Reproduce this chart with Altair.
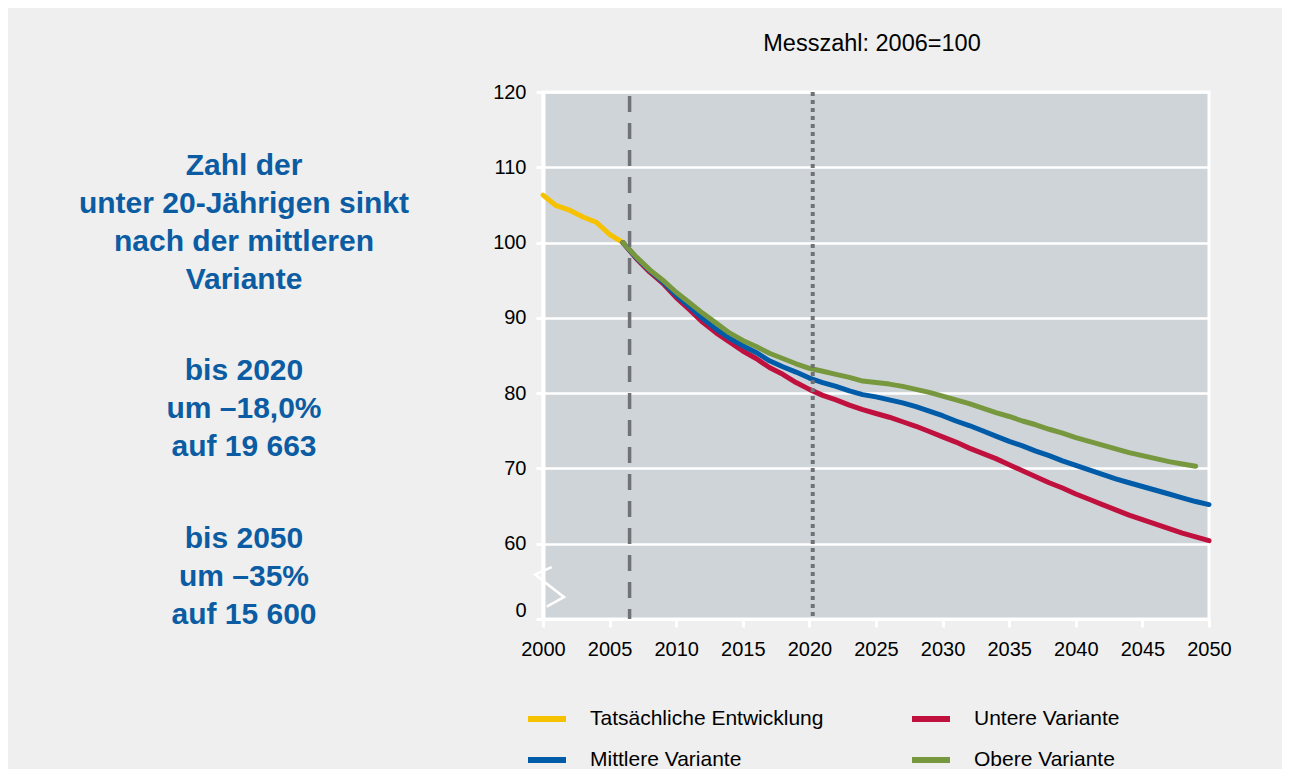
import altair as alt
import pandas as pd

# ---------------- data ----------------
SERIES = ["Tatsächliche Entwicklung", "Untere Variante", "Mittlere Variante", "Obere Variante"]
COLORS = ["#f6c200", "#c0103e", "#005ca8", "#77983f"]
# legend fills column by column: column 1 = actual + middle, column 2 = lower + upper
LEGEND_ORDER = [SERIES[0], SERIES[2], SERIES[1], SERIES[3]]
LEGEND_COLORS = [COLORS[0], COLORS[2], COLORS[1], COLORS[3]]

YEARS_ACTUAL = [2000, 2001, 2002, 2003, 2004, 2005, 2006]
ACTUAL = [106.3, 104.9, 104.3, 103.4, 102.7, 101.1, 100.0]

YEARS_UNTERE = list(range(2006, 2051))
UNTERE = [100.0, 97.9, 96.1, 94.6, 92.7, 91.1, 89.4, 88.0, 86.8, 85.6,
          84.6, 83.4, 82.5, 81.4, 80.5, 79.7, 79.1, 78.4, 77.8, 77.3,
          76.8, 76.2, 75.6, 74.9, 74.2, 73.5, 72.7, 72.0, 71.3, 70.5,
          69.7, 68.9, 68.1, 67.4, 66.6, 65.9, 65.2, 64.5, 63.8, 63.2,
          62.6, 62.0, 61.4, 60.9, 60.4]

YEARS_MITTLERE = list(range(2006, 2051))
MITTLERE = [100.0, 98.0, 96.3, 94.8, 93.0, 91.5, 89.9, 88.5, 87.3, 86.3,
            85.4, 84.3, 83.5, 82.8, 82.0, 81.4, 80.9, 80.3, 79.8, 79.5,
            79.1, 78.7, 78.2, 77.6, 77.0, 76.3, 75.7, 75.0, 74.3, 73.6,
            73.0, 72.3, 71.7, 71.0, 70.4, 69.8, 69.2, 68.6, 68.1, 67.6,
            67.1, 66.6, 66.1, 65.6, 65.2]

YEARS_OBERE = list(range(2006, 2050))
OBERE = [100.0, 98.1, 96.4, 95.0, 93.4, 92.0, 90.6, 89.3, 88.0, 87.0,
         86.2, 85.3, 84.6, 83.9, 83.3, 82.9, 82.5, 82.1, 81.6, 81.4,
         81.2, 80.9, 80.5, 80.1, 79.6, 79.1, 78.6, 78.0, 77.4, 76.9,
         76.3, 75.8, 75.2, 74.7, 74.1, 73.6, 73.1, 72.6, 72.1, 71.7,
         71.3, 70.9, 70.6, 70.3]

X_TICKS = [2000, 2005, 2010, 2015, 2020, 2025, 2030, 2035, 2040, 2045, 2050]
Y_TICKS = [50, 60, 70, 80, 90, 100, 110, 120]   # 50 marks the broken-axis "0"
BASE_YEAR_LINE = [2006.5]
HORIZON_LINE = [2020.25]

# axis-break zigzag, in data units
BREAK_X = [2000.65, 1999.4, 2001.58, 2000.28]
BREAK_Y = [56.9, 55.9, 52.9, 51.65]

SUBTITLE = "Messzahl: 2006=100"
BLOCK1 = ["Zahl der", "unter 20-Jährigen sinkt", "nach der mittleren", "Variante"]
BLOCK2 = ["bis 2020", "um –18,0%", "auf 19 663"]
BLOCK3 = ["bis 2050", "um –35%", "auf 15 600"]

# ---------------- build ----------------
rows = []
for name, yrs, vals in [(SERIES[0], YEARS_ACTUAL, ACTUAL),
                        (SERIES[1], YEARS_UNTERE, UNTERE),
                        (SERIES[2], YEARS_MITTLERE, MITTLERE),
                        (SERIES[3], YEARS_OBERE, OBERE)]:
    for y, v in zip(yrs, vals):
        rows.append({"year": y, "value": v, "series": name})
df = pd.DataFrame(rows)

FONT = "Liberation Sans"

x_enc = alt.X(
    "year:Q",
    scale=alt.Scale(domain=[2000, 2050], nice=False, zero=False),
    axis=alt.Axis(
        values=X_TICKS, format="d", title=None, grid=False,
        domainColor="white", domainWidth=3,
        tickColor="white", tickWidth=3, tickSize=8,
        labelFontSize=20, labelFont=FONT, labelColor="black",
        labelPadding=12, labelFlush=False, labelOverlap=False,
    ),
)
y_enc = alt.Y(
    "value:Q",
    scale=alt.Scale(domain=[50, 120], nice=False, zero=False),
    axis=alt.Axis(
        values=Y_TICKS, title=None,
        labelExpr="datum.value == 50 ? '0' : datum.label",
        grid=True, gridColor="white", gridWidth=2.5,
        domainColor="white", domainWidth=4,
        tickColor="white", tickWidth=3, tickSize=7,
        labelFontSize=20, labelFont=FONT, labelColor="black",
        labelPadding=10, labelOverlap=False,
        labelOffset={"condition": {"test": "datum.value == 50", "value": -9}, "value": 0},
    ),
)
color_enc = alt.Color(
    "series:N",
    scale=alt.Scale(domain=LEGEND_ORDER, range=LEGEND_COLORS),
    title=None,
    legend=alt.Legend(
        orient="none", legendX=-18, legendY=605, columns=2,
        symbolType="stroke", symbolStrokeWidth=6, symbolSize=1444,
        labelFontSize=21, labelFont=FONT, labelColor="black",
        labelOffset=21, columnPadding=76, rowPadding=7, labelLimit=500,
    ),
)

def series_layer(name):
    return alt.Chart(df).transform_filter(
        alt.datum.series == name
    ).mark_line(strokeWidth=5, strokeJoin="round", strokeCap="round").encode(
        x=x_enc, y=y_enc, color=color_enc, order="year:Q"
    )

lines = [series_layer(SERIES[0]), series_layer(SERIES[1]),
         series_layer(SERIES[2]), series_layer(SERIES[3])]

dashed = alt.Chart(pd.DataFrame({"year": BASE_YEAR_LINE})).mark_rule(
    color="#707275", strokeWidth=3.5, strokeDash=[16, 11], strokeDashOffset=23
).encode(x="year:Q")

dotted = alt.Chart(pd.DataFrame({"year": HORIZON_LINE})).mark_rule(
    color="#707275", strokeWidth=4, strokeDash=[4, 4]
).encode(x="year:Q")

brk = alt.Chart(pd.DataFrame({"year": BREAK_X, "value": BREAK_Y,
                              "i": list(range(len(BREAK_X)))})).mark_line(
    color="white", strokeWidth=2.5, clip=False
).encode(x="year:Q", y="value:Q", order="i:Q")

def text_layer(lines_, x, y, size, bold, color, lh=38):
    return alt.Chart(pd.DataFrame({"t": ["\n".join(lines_)]})).mark_text(
        align="center", baseline="alphabetic", lineBreak="\n", lineHeight=lh,
        fontSize=size, fontWeight="bold" if bold else "normal", font=FONT,
        color=color,
    ).encode(text="t:N", x=alt.value(x), y=alt.value(y))

BLUE_TXT = "#0b5ca2"
t0 = text_layer([SUBTITLE], 329, -41, 23.5, False, "black")
t1 = text_layer(BLOCK1, -299, 83, 30, True, BLUE_TXT)
t2 = text_layer(BLOCK2, -299, 288, 30, True, BLUE_TXT)
t3 = text_layer(BLOCK3, -299, 456, 30, True, BLUE_TXT)

chart = alt.layer(
    *lines, dashed, dotted, brk, t0, t1, t2, t3
).properties(
    width=666, height=527,
    autosize=alt.AutoSizeParams(type="none"),
    padding={"left": 535, "top": 84, "right": 73, "bottom": 150},
).configure(
    background="#eeefee", font=FONT
).configure_view(
    fill="#cfd4d8", stroke="white", strokeWidth=3
)

chart.save("out.html", embed_options={"renderer": "svg", "actions": False})
